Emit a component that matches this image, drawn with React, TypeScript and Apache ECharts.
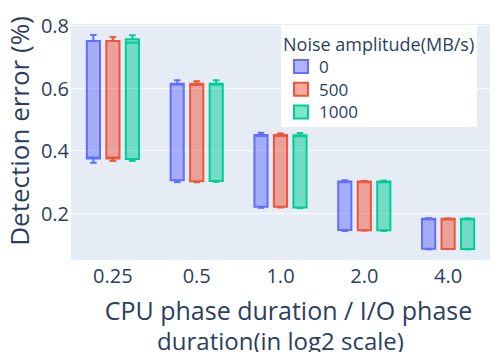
import React, { useEffect, useRef } from "react";
import * as echarts from "echarts";

const categories = ["0.25", "0.5", "1.0", "2.0", "4.0"];
const seriesNames = ["0", "500", "1000"];
// [min, q1, median, q3, max] per category
const noise0 = [
  [0.361, 0.375, 0.378, 0.751, 0.77],
  [0.299, 0.305, 0.611, 0.614, 0.625],
  [0.217, 0.22, 0.447, 0.45, 0.457],
  [0.143, 0.146, 0.299, 0.301, 0.305],
  [0.084, 0.086, 0.18, 0.182, 0.184],
];
const noise500 = [
  [0.367, 0.375, 0.378, 0.751, 0.763],
  [0.299, 0.302, 0.61, 0.614, 0.622],
  [0.218, 0.22, 0.447, 0.45, 0.455],
  [0.144, 0.145, 0.299, 0.301, 0.303],
  [0.085, 0.085, 0.18, 0.182, 0.183],
];
const noise1000 = [
  [0.367, 0.373, 0.745, 0.756, 0.769],
  [0.3, 0.303, 0.611, 0.614, 0.625],
  [0.216, 0.218, 0.446, 0.449, 0.456],
  [0.143, 0.145, 0.299, 0.301, 0.304],
  [0.084, 0.085, 0.18, 0.182, 0.183],
];
const yTicks = [0.2, 0.4, 0.6, 0.8];
const xTitleLine1 = "CPU phase duration / I/O phase";
const xTitleLine2 = "duration(in log2 scale)";
const yTitle = "Detection error (%)";
const legendTitle = "Noise amplitude(MB/s)";

const colors = ["#636efa", "#EF553B", "#00cc96"];
const fills = ["rgba(99,110,250,0.5)", "rgba(239,85,59,0.5)", "rgba(0,204,150,0.5)"];
const FONT = "'Open Sans', sans-serif";
const TXT = "#2a3f5f";

export default function App() {
  const ref = useRef<HTMLDivElement>(null);
  useEffect(() => {
    const chart = echarts.init(ref.current!, null, { renderer: "svg" });
    const all = [noise0, noise500, noise1000];
    const series = all.map((vals, s) => ({
      type: "custom",
      name: seriesNames[s],
      itemStyle: { color: fills[s], borderColor: colors[s], borderWidth: 2 },
      encode: { x: 0, y: [1, 2, 3, 4, 5] },
      data: vals.map((v, i) => [i, ...v]),
      renderItem: (params: any, api: any) => {
        const idx = api.value(0);
        const band = api.size([1, 0])[0];
        const cx = api.coord([idx, 0.5])[0] + (s - 1) * band * 0.2327;
        const w = band * 0.157;
        const yv = (k: number) => api.coord([idx, api.value(k)])[1];
        const yMin = yv(1), yQ1 = yv(2), yMed = yv(3), yQ3 = yv(4), yMax = yv(5);
        const ls = { stroke: colors[s], lineWidth: 2, fill: null };
        return {
          type: "group",
          children: [
            { type: "line", shape: { x1: cx, y1: yMax, x2: cx, y2: yQ3 }, style: ls },
            { type: "line", shape: { x1: cx - w / 4, y1: yMax, x2: cx + w / 4, y2: yMax }, style: ls },
            { type: "line", shape: { x1: cx, y1: yMin, x2: cx, y2: yQ1 }, style: ls },
            { type: "line", shape: { x1: cx - w / 4, y1: yMin, x2: cx + w / 4, y2: yMin }, style: ls },
            {
              type: "rect",
              shape: { x: cx - w / 2, y: yQ3, width: w, height: yQ1 - yQ3 },
              style: { fill: fills[s], stroke: colors[s], lineWidth: 2 },
            },
            { type: "line", shape: { x1: cx - w / 2, y1: yMed, x2: cx + w / 2, y2: yMed }, style: ls },
          ],
        };
      },
    }));
    chart.setOption({
      animation: false,
      backgroundColor: "#fff",
      grid: {
        left: 71,
        right: 10,
        top: 24,
        bottom: 100,
        show: true,
        backgroundColor: "#E5ECF6",
        borderWidth: 0,
        containLabel: false,
        outerBoundsMode: "none",
      },
      xAxis: {
        type: "category",
        data: categories,
        axisLine: { show: false },
        axisTick: { show: false },
        axisLabel: { color: TXT, fontFamily: FONT, fontSize: 20, margin: 5 },
        name: `{a|${xTitleLine1}}\n{b|${xTitleLine2}}`,
        nameLocation: "middle",
        nameGap: 35,
        nameTextStyle: {
          color: TXT,
          fontFamily: FONT,
          fontSize: 24,
          lineHeight: 30,
          rich: {
            a: { color: TXT, fontFamily: FONT, fontSize: 25, lineHeight: 30, padding: [0, 0, 0, 16] },
            b: { color: TXT, fontFamily: FONT, fontSize: 24, lineHeight: 30 },
          },
        },
      },
      yAxis: {
        type: "value",
        min: 0.05,
        max: 0.805,
        axisLine: { show: false },
        axisTick: { show: false, customValues: yTicks },
        axisLabel: {
          customValues: yTicks,
          color: TXT,
          fontFamily: FONT,
          fontSize: 20,
          margin: 2,
          formatter: (v: number) => v.toFixed(1),
        },
        splitLine: { show: true, lineStyle: { color: "#ffffff", width: 1 } },
      },
      legend: {
        orient: "vertical",
        left: 288,
        top: 53,
        itemWidth: 14,
        itemHeight: 13,
        itemGap: 5.7,
        icon: "rect",
        textStyle: { color: TXT, fontFamily: FONT, fontSize: 17, lineHeight: 17, padding: [0, 0, 0, 6] },
        data: seriesNames.map((n, i) => ({
          name: n,
          itemStyle: { color: fills[i], borderColor: colors[i], borderWidth: 2 },
        })),
      },
      graphic: [
        {
          type: "text",
          z: 5,
          x: 19,
          y: 131,
          rotation: Math.PI / 2,
          style: {
            text: yTitle,
            fill: TXT,
            font: `26px ${FONT}`,
            align: "center",
            verticalAlign: "middle",
          },
        },
        {
          type: "rect",
          z: 1,
          shape: { x: 281, y: 25, width: 196, height: 102 },
          style: { fill: "#ffffff" },
        },
        {
          type: "text",
          z: 5,
          x: 283,
          y: 44,
          style: {
            text: legendTitle,
            fill: TXT,
            font: `18px ${FONT}`,
            verticalAlign: "middle",
          },
        },
      ],
      series,
    });
    return () => chart.dispose();
  }, []);
  return <div ref={ref} style={{ width: 500, height: 360, margin: -8 }} />;
}
